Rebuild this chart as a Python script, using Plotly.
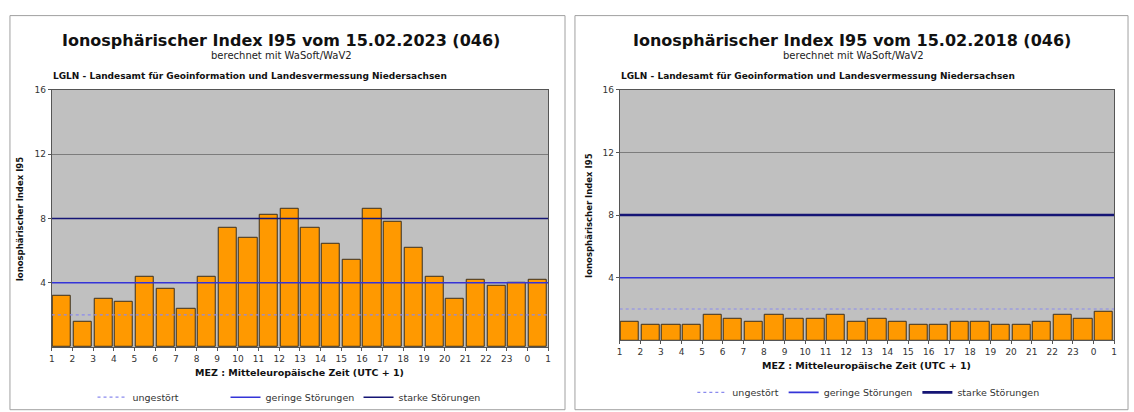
import plotly.graph_objects as go

W, H = 1134, 412

hours = ["1", "2", "3", "4", "5", "6", "7", "8", "9", "10", "11", "12", "13", "14",
         "15", "16", "17", "18", "19", "20", "21", "22", "23", "0", "1"]
i95_2023 = [3.2, 1.6, 3.0, 2.8, 4.35, 3.6, 2.35, 4.35, 7.4, 6.8, 8.2, 8.6,
            7.4, 6.4, 5.4, 8.6, 7.8, 6.2, 4.35, 3.0, 4.2, 3.8, 4.0, 4.2]
i95_2018 = [1.2, 1.0, 1.0, 1.0, 1.6, 1.4, 1.2, 1.6, 1.4, 1.4, 1.6, 1.2,
            1.4, 1.2, 1.0, 1.0, 1.2, 1.2, 1.0, 1.0, 1.2, 1.6, 1.4, 1.8]
levels = {"ungestört": 2, "geringe Störungen": 4, "starke Störungen": 8}
y_ticks = [4, 8, 12, 16]

titles = ["Ionosphärischer Index I95 vom 15.02.2023 (046)",
          "Ionosphärischer Index I95 vom 15.02.2018 (046)"]
subtitle = "berechnet mit WaSoft/WaV2"
org = "LGLN - Landesamt für Geoinformation und Landesvermessung Niedersachsen"
xtitle = "MEZ : Mitteleuropäische Zeit (UTC + 1)"
ytitle = "Ionosphärischer Index I95"

FONT = "DejaVu Sans"


def px(x):
    return x / W


def py(y):
    return 1 - y / H


fig = go.Figure()

panels = [
    dict(data=i95_2023, xa="x", ya="y", xd=[49, 548], yd=[88, 355], frame=[7, 565],
         cx=279, legend="legend", starke_w=1.6),
    dict(data=i95_2018, xa="x2", ya="y2", xd=[620, 1117], yd=[88, 348], frame=[575, 1131],
         cx=854, legend="legend2", starke_w=2.6),
]

line_styles = {
    "ungestört": dict(color="#8a8aee", dash="dot", width=1.2),
    "geringe Störungen": dict(color="#3434d8", dash="solid", width=1.6),
    "starke Störungen": dict(color="#151575", dash="solid", width=1.6),
}

annotations = []
shapes = []
for k, p in enumerate(panels):
    n = len(p["data"])
    centers = [i + 0.5 for i in range(n)]
    fig.add_trace(go.Bar(
        x=centers, y=p["data"], width=0.88, xaxis=p["xa"], yaxis=p["ya"],
        marker=dict(color="#ff9900", line=dict(color="#3a3020", width=1)),
        showlegend=False, hoverinfo="skip"))
    for name, val in levels.items():
        st = dict(line_styles[name])
        if name == "starke Störungen":
            st["width"] = p["starke_w"]
        fig.add_trace(go.Scatter(
            x=[0, n], y=[val, val], mode="lines", name=name, line=st,
            xaxis=p["xa"], yaxis=p["ya"], legend=p["legend"], hoverinfo="skip"))

    f0, f1 = p["frame"]
    cx = p["cx"]
    shapes.append(dict(type="rect", xref="paper", yref="paper",
                       x0=px(f0), x1=px(f1), y0=py(420), y1=py(11),
                       line=dict(color="#a0a0a0", width=1), fillcolor="rgba(0,0,0,0)",
                       layer="below"))
    annotations += [
        dict(text="<b>" + titles[k] + "</b>", x=px(cx), y=py(37), xref="paper", yref="paper",
             showarrow=False, font=dict(family=FONT, size=16, color="#111"),
             xanchor="center", yanchor="middle"),
        dict(text=subtitle, x=px(cx + 1), y=py(52), xref="paper", yref="paper",
             showarrow=False, font=dict(family=FONT, size=10, color="#222"),
             xanchor="center", yanchor="middle"),
        dict(text="<b>" + org + "</b>", x=px(p["xd"][0] - 1), y=py(74), xref="paper",
             yref="paper", showarrow=False, font=dict(family=FONT, size=9, color="#111"),
             xanchor="left", yanchor="middle"),
        dict(text="<b>" + ytitle + "</b>", x=px(p["xd"][0] - 31),
             y=py((p["yd"][0] + p["yd"][1]) / 2), xref="paper", yref="paper",
             showarrow=False, textangle=-90, font=dict(family=FONT, size=8.5, color="#111"),
             xanchor="center", yanchor="middle"),
        dict(text="<b>" + xtitle + "</b>", x=px((p["xd"][0] + p["xd"][1]) / 2),
             y=py(p["yd"][1] + 26), xref="paper", yref="paper", showarrow=False,
             font=dict(family=FONT, size=9.5, color="#111"), xanchor="center",
             yanchor="middle"),
    ]

    axis_common = dict(showline=True, linecolor="#555", linewidth=1, mirror=True,
                       ticks="outside", ticklen=3, tickcolor="#555",
                       tickfont=dict(family=FONT, size=9, color="#333"))
    xkey = "xaxis" if k == 0 else "xaxis2"
    ykey = "yaxis" if k == 0 else "yaxis2"
    fig.update_layout(**{
        xkey: dict(domain=[px(p["xd"][0]), px(p["xd"][1])], anchor=p["ya"],
                   range=[0, n], tickvals=list(range(n + 1)), ticktext=hours,
                   showgrid=False, zeroline=False, **axis_common),
        ykey: dict(domain=[py(p["yd"][1]), py(p["yd"][0])], anchor=p["xa"],
                   range=[0, 16], tickvals=y_ticks, showgrid=True, gridcolor="#7c7c7c",
                   gridwidth=1, zeroline=False, **axis_common),
    })

fig.update_layout(
    width=W, height=H, margin=dict(l=0, r=0, t=0, b=0),
    paper_bgcolor="white", plot_bgcolor="#c0c0c0", bargap=0,
    font=dict(family=FONT, color="#333"),
    annotations=annotations, shapes=shapes,
    legend=dict(orientation="h", x=px(90), y=py(407), xanchor="left", yanchor="middle",
                font=dict(family=FONT, size=9.5, color="#333"), bgcolor="rgba(0,0,0,0)",
                itemwidth=30, tracegroupgap=0, entrywidth=88, entrywidthmode="pixels"),
    legend2=dict(orientation="h", x=px(693), y=py(402), xanchor="left", yanchor="middle",
                 font=dict(family=FONT, size=9.5, color="#333"), bgcolor="rgba(0,0,0,0)",
                 itemwidth=30, tracegroupgap=0),
)

fig.write_html(
    "out.html",
    config={"displayModeBar": False},
    post_script="document.body.style.margin='0';document.body.style.overflow='hidden';",
)
